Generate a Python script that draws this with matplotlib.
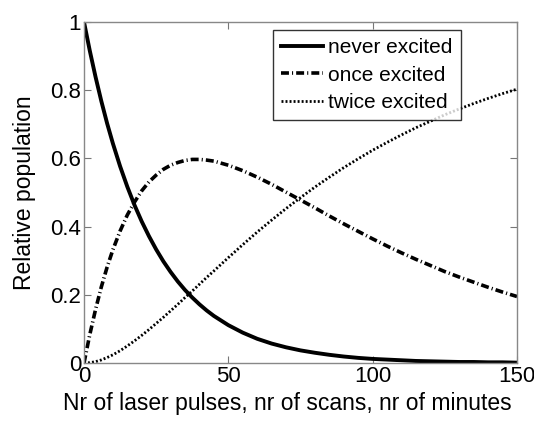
import matplotlib
matplotlib.use("Agg")
import matplotlib.pyplot as plt

plt.rcParams['font.family'] = ['Liberation Sans', 'DejaVu Sans']

x = [0, 2, 4, 6, 8, 10, 12.5, 15, 17.5, 20, 22.5, 25, 27.5, 30, 32.5, 35, 37.5, 40,
     42.5, 45, 50, 55, 60, 65, 70,
     75, 80, 85, 90, 95, 100, 105, 110, 115, 120, 125, 130, 135, 140, 145, 150]
never = [1.0, 0.916, 0.839, 0.768, 0.703, 0.644, 0.577, 0.517, 0.463, 0.415, 0.372,
         0.333, 0.298, 0.267, 0.239, 0.214, 0.192, 0.172, 0.154, 0.138, 0.111, 0.089,
         0.071, 0.057, 0.046, 0.037, 0.030,
         0.024, 0.019, 0.015, 0.012, 0.010, 0.008, 0.006, 0.005, 0.004, 0.003, 0.003,
         0.002, 0.002, 0.001]
once = [0.0, 0.083, 0.157, 0.223, 0.281, 0.332, 0.387, 0.434, 0.472, 0.505, 0.531,
        0.551, 0.568, 0.580, 0.588, 0.594, 0.597, 0.597, 0.595, 0.592, 0.580, 0.564,
        0.545, 0.524, 0.501, 0.478, 0.455,
        0.431, 0.408, 0.386, 0.364, 0.343, 0.323, 0.304, 0.286, 0.268, 0.252, 0.237,
        0.222, 0.208, 0.195]
twice = [0.0, 0.001, 0.004, 0.009, 0.016, 0.024, 0.036, 0.050, 0.065, 0.081, 0.098,
         0.116, 0.134, 0.153, 0.172, 0.192, 0.211, 0.231, 0.251, 0.270, 0.309, 0.347,
         0.384, 0.419, 0.453, 0.485, 0.516,
         0.545, 0.573, 0.599, 0.624, 0.647, 0.669, 0.690, 0.709, 0.728, 0.745, 0.761,
         0.776, 0.790, 0.803]

xticks = [0, 50, 100, 150]
yticks = [0, 0.2, 0.4, 0.6, 0.8, 1]
ytick_labels = ['0', '0.2', '0.4', '0.6', '0.8', '1']

fig = plt.figure(figsize=(5.34, 4.21), dpi=100)
ax = fig.add_axes([84/534, 58/421, 433/534, 341/421])

ax.plot(x, never, color='black', lw=2.8, ls='-', label='never excited')
ax.plot(x, once, color='black', lw=2.6, ls=(0, (2.2, 0.85, 0.3, 0.85)), label='once excited')
ax.plot(x, twice, color='black', lw=2.0, ls=(0, (0.7, 0.75)), label='twice excited')

ax.set_xlim(0, 150)
ax.set_ylim(0, 1)
ax.set_xticks(xticks)
ax.set_yticks(yticks)
ax.set_yticklabels(ytick_labels)
ax.tick_params(direction='in', top=True, right=True, length=5, color='#777777',
               labelsize=16, pad=2)
for s in ax.spines.values():
    s.set_color('#888888')
    s.set_linewidth(1.0)

ax.set_xlabel('Nr of laser pulses, nr of scans, nr of minutes', fontsize=16.5, labelpad=5)
ax.xaxis.set_label_coords((287 - 84) / 433, -0.085)
ax.set_ylabel('Relative population', fontsize=16.5, labelpad=10)

leg = ax.legend(loc='upper right', bbox_to_anchor=(461/534, 1 - 30/421),
                bbox_transform=fig.transFigure, fontsize=15, frameon=True,
                fancybox=False, edgecolor='black', handlelength=2.0,
                handletextpad=0.25, borderpad=0.4, labelspacing=0.4,
                borderaxespad=0)
leg.get_frame().set_linewidth(1.0)

fig.savefig('out.png', dpi=100)
